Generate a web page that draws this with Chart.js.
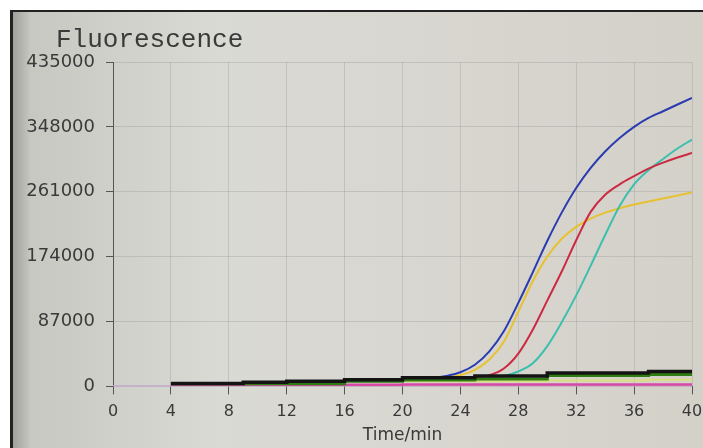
<!DOCTYPE html>
<html>
<head>
<meta charset="utf-8">
<script src="https://cdn.jsdelivr.net/npm/chart.js"></script>
<style>
html,body{margin:0;padding:0;background:#fff;overflow:hidden;}
#wrap{width:703px;height:448px;overflow:hidden;}
</style>
</head>
<body>
<div id="wrap"><canvas id="c" width="716" height="448"></canvas></div>
<script>

// data
const minutes=[0,1,2,3,4,5,6,7,8,9,10,11,12,13,14,15,16,17,18,19,20,21,22,23,24,25,26,27,28,29,30,31,32,33,34,35,36,37,38,39,40];
const yTicks=[0,87000,174000,261000,348000,435000];

const blue=[null,null,null,null,null,null,null,null,null,null,null,null,null,null,null,null,null,null,null,null,null,null,
11000,14000,19000,29000,47000,74000,112000,153000,195000,233000,266000,293000,315000,333000,348000,360000,369000,378000,387000];
const yellow=[null,null,null,null,null,null,null,null,null,null,null,null,null,null,null,null,null,null,null,null,null,null,null,
12000,15000,22000,36000,60000,100000,141000,174000,198000,214000,225000,233000,239000,244000,248000,252000,256000,260000];
const red=[null,null,null,null,null,null,null,null,null,null,null,null,null,null,null,null,null,null,null,null,null,null,null,null,null,
12000,15000,24000,44000,76000,115000,154000,196000,234000,257000,271000,282000,292000,300000,307000,313000];
const teal=[null,null,null,null,null,null,null,null,null,null,null,null,null,null,null,null,null,null,null,null,null,null,null,null,null,null,
12000,14000,20000,31000,54000,86000,122000,162000,203000,242000,271000,290000,305000,319000,331000];

const black=[null,null,null,null,4000,4000,4000,4000,4000,5400,5400,5400,6800,6800,6800,6800,8800,8800,8800,8800,
11500,11500,11500,11500,11500,14000,14000,14000,14000,14000,18000,18000,18000,18000,18000,18000,18000,20000,20000,20000,20000];
const green=[null,null,null,null,3500,3500,3500,3500,3500,3500,3500,3500,3500,3500,3500,3500,7000,7000,7000,7000,
8500,8500,8500,8500,8500,10000,10000,10000,10000,10000,14500,14500,14500,14500,14500,14500,14500,16000,16000,16000,16000];
const pale=[null,null,null,null,null,null,null,null,null,null,null,null,null,null,null,null,null,null,null,null,
7000,7000,7000,7000,7000,7000,7000,7000,7000,7000,8000,8000,8000,8000,8000,8000,8000,9000,9000,9000,9000];
const magenta=[null,null,null,null,2300,2300,2300,2300,2300,2300,2300,2300,2300,2300,2300,2300,2300,2300,2300,2300,
2500,2500,2500,2500,2500,2500,2500,2500,2500,2500,2500,2500,2500,2500,2500,2500,2500,2500,2500,2500,2500];
const lavender=[700,700,700,700,700,700,700,700,700,700,700,700,700,700,700,700,700,700,700,700,
700,700,700,700,700,700,700,700,700,700,700,700,700,700,700,700,700,700,700,700,700];

function pts(arr){
return minutes.map((m,i)=>({x:m,y:arr[i]}));
}

function curve(arr,color,w){
return {data:pts(arr),borderColor:color,borderWidth:w,pointRadius:0,fill:false,cubicInterpolationMode:"monotone"};
}

function steps(arr,color,w){
return {data:pts(arr),borderColor:color,borderWidth:w,pointRadius:0,fill:false,stepped:"before"};
}


// screen background of the photo
const backdrop={
id:"backdrop",
beforeDraw(chart){
const ctx=chart.ctx;
ctx.save();
ctx.fillStyle="#fff";
ctx.fillRect(0,0,chart.width,chart.height);
let g=ctx.createLinearGradient(10,0,703,0);
g.addColorStop(0,"#9a9a96");
g.addColorStop(0.03,"#c8c8c3");
g.addColorStop(0.3,"#dadad4");
g.addColorStop(1,"#d4d1c9");
ctx.fillStyle=g;
ctx.fillRect(10,10,chart.width,chart.height);
ctx.fillStyle="#222";
ctx.fillRect(10,10,chart.width,2);
ctx.fillRect(10,10,3,chart.height);
ctx.restore();
},
afterDraw(chart){
const ctx=chart.ctx;
ctx.save();
ctx.font="26px 'Liberation Mono'";
ctx.fillStyle="#3a3a3a";
ctx.textBaseline="alphabetic";
ctx.fillText("Fluorescence",56,47);
ctx.restore();
}
};


new Chart(document.getElementById("c"),{
type:"line",
data:{
datasets:[
steps(black,"#141414",3.5),
steps(green,"#2f7d12",3),
steps(pale,"#d9df7a",2),
steps(magenta,"#d64aa6",2.5),
steps(lavender,"#c9a3cf",1.5),
curve(blue,"#2b3bb0",2),
curve(red,"#cc2a42",2),
curve(teal,"#3cbfae",2),
curve(yellow,"#e6c232",2)
]
},
options:{
responsive:false,
animation:false,
events:[],
layout:{padding:{left:0,top:62,right:24,bottom:2}},
plugins:{legend:{display:false},tooltip:{enabled:false}},
scales:{
x:{
type:"linear",min:0,max:40,
ticks:{stepSize:4,color:"#3a3a3a",font:{family:"DejaVu Sans",size:16},padding:8},
grid:{color:"rgba(160,160,155,0.4)",tickColor:"#555",tickLength:8,drawTicks:true},
border:{display:false},
title:{display:true,text:"Time/min",color:"#3a3a3a",font:{family:"DejaVu Sans",size:17},padding:{top:-4,bottom:0}}
},
y:{
min:0,max:435000,
afterBuildTicks(scale){scale.ticks=yTicks.map(v=>({value:v}));},
afterFit(scale){scale.width=113;},
ticks:{color:"#3a3a3a",font:{family:"DejaVu Sans",size:18},padding:11,callback:v=>String(v)},
grid:{color:"rgba(160,160,155,0.4)",tickColor:"#555",tickLength:7},
border:{display:true,color:"#555",width:1}
}
}
},
plugins:[backdrop]
});

</script>
</body>
</html>
